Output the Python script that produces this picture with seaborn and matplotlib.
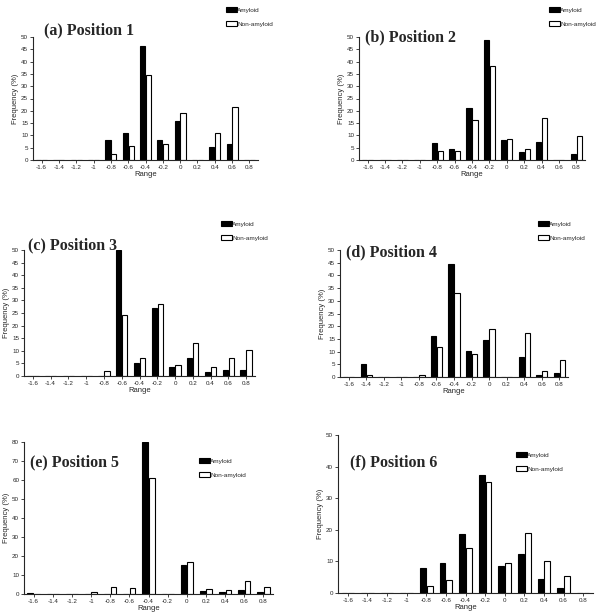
import pandas as pd
import seaborn as sns
import matplotlib.pyplot as plt

# Range bins shared by all panels
ranges = ["-1.6", "-1.4", "-1.2", "-1", "-0.8", "-0.6", "-0.4", "-0.2",
          "0", "0.2", "0.4", "0.6", "0.8"]

# Frequency (%) per position
pos1_amyloid = [0, 0, 0, 0, 8.2, 11, 46.2, 8.2, 16, 0, 5.3, 6.7, 0]
pos1_non = [0, 0, 0, 0, 2.6, 5.6, 34.6, 6.7, 19, 0, 10.9, 21.5, 0]

pos2_amyloid = [0, 0, 0, 0, 6.8, 4.6, 21.2, 48.6, 8.2, 3.1, 7.5, 0, 2.4]
pos2_non = [0, 0, 0, 0, 3.8, 3.8, 16.3, 38.4, 8.7, 4.3, 17, 0, 9.9]

pos3_amyloid = [0, 0, 0, 0, 0, 50, 5.2, 26.8, 3.7, 7.3, 1.5, 2.3, 2.3]
pos3_non = [0, 0, 0, 0, 1.9, 24.4, 7.3, 28.6, 4.2, 13.1, 3.7, 7.3, 10.2]

pos4_amyloid = [0, 5.2, 0, 0, 0, 16, 44.6, 10.1, 14.5, 0, 8, 0.8, 1.4]
pos4_non = [0, 0.65, 0, 0, 0.6, 12, 32.9, 9, 19, 0, 17.4, 2.4, 6.5]

pos5_amyloid = [0.5, 0, 0, 0, 0, 0, 80, 0, 15.3, 1.6, 0.9, 2.3, 0.9]
pos5_non = [0, 0, 0, 1.2, 3.6, 3, 61, 0, 16.8, 2.4, 1.9, 6.6, 3.6]

pos6_amyloid = [0, 0, 0, 0, 7.9, 9.4, 18.7, 37.4, 8.7, 12.3, 4.4, 1.6, 0]
pos6_non = [0, 0, 0, 0, 2.3, 4.2, 14.3, 35.2, 9.6, 19, 10.1, 5.4, 0]

panels = [
    ("(a) Position 1", pos1_amyloid, pos1_non),
    ("(b) Position 2", pos2_amyloid, pos2_non),
    ("(c) Position 3", pos3_amyloid, pos3_non),
    ("(d) Position 4", pos4_amyloid, pos4_non),
    ("(e) Position 5", pos5_amyloid, pos5_non),
    ("(f) Position 6", pos6_amyloid, pos6_non),
]

# layout in pixels: axes (left, right, top, bottom), title (x, baseline),
# legend (x, top), y max, y step
W, H = 600, 614
layout = [
    ((33, 258, 37, 160), (44, 34), (223, 4), 50, 5),
    ((359, 585, 37, 160), (365, 41), (546, 4), 50, 5),
    ((24, 255, 250, 376), (28, 249), (218, 218), 50, 5),
    ((340, 568, 250, 377), (346, 256), (535, 218), 50, 5),
    ((24, 273, 442, 594), (30, 466), (196, 455), 80, 10),
    ((338, 593, 435, 593), (350, 466), (513, 449), 50, 10),
]

sns.set_theme(style="ticks")
plt.rcParams["font.family"] = ["Liberation Sans", "DejaVu Sans"]

fig = plt.figure(figsize=(W / 100, H / 100), dpi=100)
palette = {"Amyloid": "black", "Non-amyloid": "white"}

for (title, amy, non), (box, tpos, lpos, ymax, ystep) in zip(panels, layout):
    l, r, t, b = box
    ax = fig.add_axes([l / W, 1 - b / H, (r - l) / W, (b - t) / H])
    df = pd.DataFrame({
        "Range": ranges * 2,
        "Frequency": amy + non,
        "Group": ["Amyloid"] * len(ranges) + ["Non-amyloid"] * len(ranges),
    })
    sns.barplot(data=df, x="Range", y="Frequency", hue="Group", order=ranges,
                palette=palette, edgecolor="black", linewidth=0.8,
                width=0.68, gap=0.12, ax=ax)
    ax.set_xlim(-0.5, 12.5)
    ax.set_ylim(0, ymax)
    ax.set_yticks(range(0, ymax + 1, ystep))
    ax.set_xlabel("Range", fontsize=5.5, labelpad=1)
    ax.set_ylabel("Frequency (%)", fontsize=5.5, labelpad=1.5)
    ax.tick_params(labelsize=4.5, length=2, width=0.6, pad=1.5)
    for s in ax.spines.values():
        s.set_linewidth(0.8)
    sns.despine(ax=ax)
    sns.move_legend(ax, "upper left", bbox_to_anchor=(lpos[0] / W, 1 - lpos[1] / H),
                    bbox_transform=fig.transFigure, frameon=False, title=None,
                    fontsize=4.6, handlelength=1.7, handleheight=0.9,
                    handletextpad=0.05, labelspacing=1.25, borderpad=0)
    fig.text(tpos[0] / W, 1 - tpos[1] / H, title, fontsize=11.5,
             fontweight="bold", family="Liberation Serif", va="baseline")

fig.savefig("out.png", dpi=100)
